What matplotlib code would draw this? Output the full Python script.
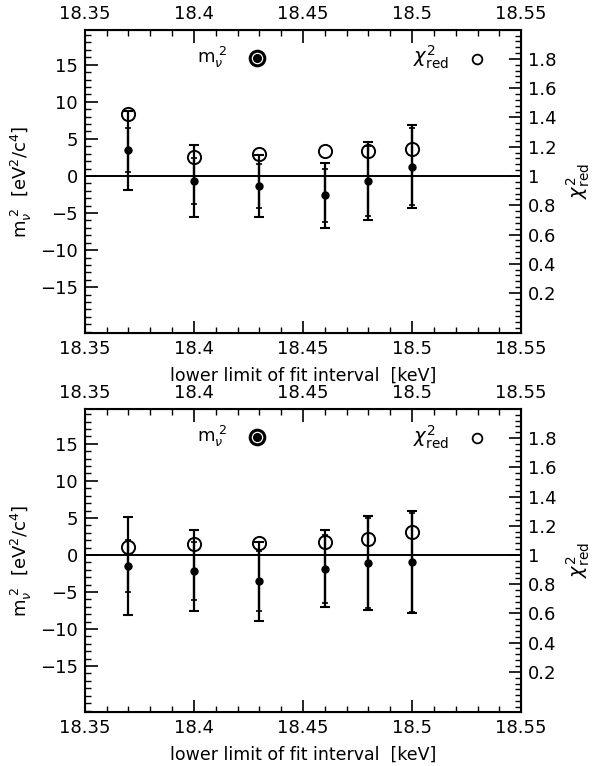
#!/usr/bin/env python3
import matplotlib

matplotlib.use("Agg")
import matplotlib.pyplot as plt
from matplotlib.ticker import MultipleLocator, FuncFormatter

# lower limit of the fit interval (keV)
x_kev = [18.37, 18.40, 18.43, 18.46, 18.48, 18.50]

# upper panel
top_m2 = [3.47, -0.68, -1.35, -2.61, -0.68, 1.22]
top_stat = [2.97, 3.10, 3.00, 3.60, 4.75, 5.20]
top_tot = [5.33, 4.82, 4.20, 4.35, 5.20, 5.60]
top_chi2 = [1.425, 1.132, 1.151, 1.171, 1.171, 1.183]

# lower panel
bot_m2 = [-1.49, -2.12, -3.56, -1.85, -1.08, -0.99]
bot_stat = [3.50, 3.90, 4.05, 4.60, 6.10, 6.70]
bot_tot = [6.60, 5.45, 5.30, 5.20, 6.30, 6.90]
bot_chi2 = [1.055, 1.073, 1.084, 1.091, 1.112, 1.155]

X_TICKS = [18.35, 18.40, 18.45, 18.50, 18.55]
M2_LIM = (-21.2, 19.7)
M2_PER_CHI = 146.0 / 7.4  # pixel scales of the two y axes


def fmt_plain(v, _pos):
    s = f"{v:.2f}".rstrip("0").rstrip(".")
    return s.replace("-", "\u2212")


def draw_panel(fig, rect, m2, stat, tot, chi2):
    tick_size = 13
    ax = fig.add_axes(rect)
    ax.set_xlim(18.35, 18.55)
    ax.set_ylim(*M2_LIM)
    ax.axhline(0, color="black", linewidth=1.4, zorder=1)

    # total uncertainty (wide caps) and statistical (short caps)
    ax.errorbar(x_kev, m2, yerr=tot, fmt="none", ecolor="black",
                elinewidth=1.6, capsize=3.6, capthick=1.5, zorder=2)
    ax.errorbar(x_kev, m2, yerr=stat, fmt="none", ecolor="black",
                elinewidth=1.6, capsize=2.2, capthick=1.2, zorder=2)
    ax.plot(x_kev, m2, "o", color="black", markersize=5, zorder=3)

    ax.xaxis.set_major_locator(MultipleLocator(0.05))
    ax.xaxis.set_minor_locator(MultipleLocator(0.01))
    ax.yaxis.set_major_locator(MultipleLocator(5))
    ax.yaxis.set_minor_locator(MultipleLocator(1))
    ax.set_xticks(X_TICKS)
    ax.xaxis.set_major_formatter(FuncFormatter(fmt_plain))
    ax.yaxis.set_major_formatter(FuncFormatter(fmt_plain))
    ax.set_yticks([-15, -10, -5, 0, 5, 10, 15])
    ax.tick_params(which="both", direction="in", top=True, labeltop=True,
                   right=False, labelsize=tick_size, pad=5)
    ax.tick_params(which="major", length=9, width=1.2)
    ax.tick_params(which="minor", length=4.5, width=1.0)
    for sp in ax.spines.values():
        sp.set_linewidth(1.5)

    ax.set_xlabel("lower limit of fit interval  [keV]", fontsize=12.5, labelpad=6)
    ax.set_ylabel(r"$\mathrm{m}_{\nu}^{\;2}$  [eV$^2$/c$^4$]", fontsize=13, labelpad=4)

    # reduced chi-square on the right axis
    ax2 = ax.twinx()
    ax2.set_ylim(1 + M2_LIM[0] / M2_PER_CHI, 1 + M2_LIM[1] / M2_PER_CHI)
    ax2.plot(x_kev, chi2, "o", markerfacecolor="none", markeredgecolor="black",
             markersize=9.5, markeredgewidth=1.4, zorder=4)
    ax2.set_yticks([0.2, 0.4, 0.6, 0.8, 1.0, 1.2, 1.4, 1.6, 1.8])
    ax2.yaxis.set_minor_locator(MultipleLocator(0.04))
    ax2.yaxis.set_major_formatter(FuncFormatter(fmt_plain))
    ax2.tick_params(which="both", direction="in", labelsize=tick_size, pad=5)
    ax2.tick_params(which="major", length=9, width=1.2)
    ax2.tick_params(which="minor", length=4.5, width=1.0)
    ax2.set_ylabel(r"$\chi^2_{\mathrm{red}}$", fontsize=14, labelpad=6)

    # in-plot legend
    ax.text(0.291, 0.908, r"$\mathrm{m}_{\nu}^{\;2}$", transform=ax.transAxes,
            fontsize=13, ha="center", va="center")
    ax.plot([0.394], [0.908], "o", transform=ax.transAxes, markersize=10.5,
            markerfacecolor="white", markeredgecolor="black", markeredgewidth=2.2,
            clip_on=False, zorder=5)
    ax.plot([0.394], [0.908], "o", transform=ax.transAxes, markersize=5.5,
            color="black", clip_on=False, zorder=6)
    ax.text(0.794, 0.908, r"$\chi^2_{\mathrm{red}}$", transform=ax.transAxes,
            fontsize=14, ha="center", va="center")
    ax.plot([0.899], [0.905], "o", transform=ax.transAxes, markersize=7,
            markerfacecolor="none", markeredgecolor="black", markeredgewidth=1.3,
            clip_on=False, zorder=5)
    return ax


def main() -> None:
    plt.rc("font", family="DejaVu Sans")
    plt.rcParams["mathtext.fontset"] = "dejavusans"
    fig = plt.figure(figsize=(6.06, 7.66), dpi=100)
    draw_panel(fig, [0.140, 0.565, 0.720, 0.396], top_m2, top_stat, top_tot, top_chi2)
    draw_panel(fig, [0.140, 0.0705, 0.720, 0.3955], bot_m2, bot_stat, bot_tot, bot_chi2)
    fig.savefig("out.png", dpi=100)
    plt.close(fig)


if __name__ == "__main__":
    main()
